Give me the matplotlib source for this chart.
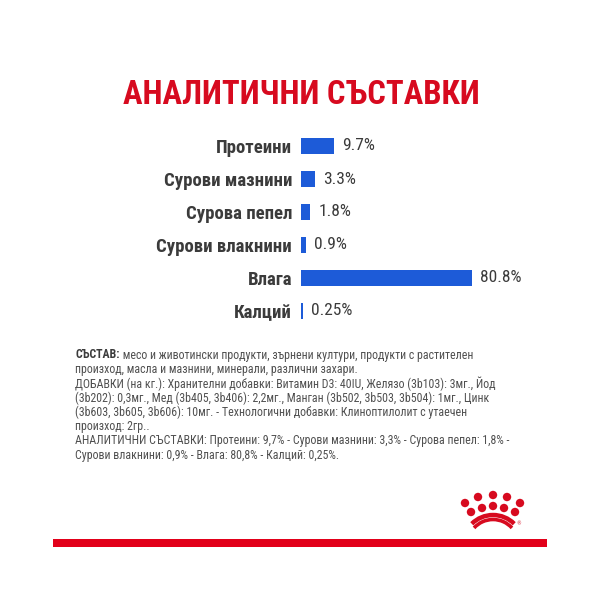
import matplotlib
matplotlib.use('Agg')
import matplotlib.pyplot as plt
import numpy as np
from matplotlib import font_manager
from matplotlib.patches import Circle, Arc, Rectangle

# ---------------------------------------------------------------------------
# Data
# ---------------------------------------------------------------------------
categories = ['Протеини', 'Сурови мазнини', 'Сурова пепел',
              'Сурови влакнини', 'Влага', 'Калций']
values = [9.7, 3.3, 1.8, 0.9, 80.8, 0.25]
value_labels = ['9.7%', '3.3%', '1.8%', '0.9%', '80.8%', '0.25%']

title = 'АНАЛИТИЧНИ СЪСТАВКИ'
composition_head = 'СЪСТАВ:'
composition_lines = [
    ' месо и животински продукти, зърнени култури, продукти с растителен',
    'произход, масла и мазнини, минерали, различни захари.',
    'ДОБАВКИ (на кг.): Хранителни добавки: Витамин D3: 40IU, Желязо (3b103): 3мг., Йод',
    '(3b202): 0,3мг., Мед (3b405, 3b406): 2,2мг., Манган (3b502, 3b503, 3b504): 1мг., Цинк',
    '(3b603, 3b605, 3b606): 10мг. - Технологични добавки: Клиноптилолит с утаечен',
    'произход: 2гр..',
    'АНАЛИТИЧНИ СЪСТАВКИ: Протеини: 9,7% - Сурови мазнини: 3,3% - Сурова пепел: 1,8% -',
    'Сурови влакнини: 0,9% - Влага: 80,8% - Калций: 0,25%.',
]

RED = '#d70a1f'
BLUE = '#1d5bd8'
DARK = '#3b3b3b'
GREY = '#505050'

# pick a narrow family if one is installed
names = {f.name for f in font_manager.fontManager.ttflist}
NARROW = next((n for n in ['Roboto Condensed', 'Liberation Sans Narrow',
                           'Open Sans Condensed'] if n in names), None)
if NARROW is None:
    NARROW = 'DejaVu Sans'
    STRETCH = 'condensed'
else:
    STRETCH = 'normal'

fig = plt.figure(figsize=(6, 6), dpi=100, facecolor='white')

# ---------------------------------------------------------------------------
# Bars
# ---------------------------------------------------------------------------
ax = fig.add_axes([301 / 600, 1 - 327.5 / 600, 171 / 600, 198 / 600])
ax.set_xscale('function', functions=(lambda x: np.power(np.clip(x, 0, None), 0.78),
                                     lambda x: np.power(np.clip(x, 0, None), 1 / 0.78)))
y = np.arange(len(categories))
ax.barh(y, values, height=0.47, color=BLUE)
ax.set_xlim(0, max(values))
ax.set_ylim(len(categories) - 0.5, -0.5)
ax.set_yticks(y)
ax.set_yticklabels(categories, fontfamily=NARROW, fontstretch=STRETCH,
                   fontweight='bold', fontsize=13.5, color=DARK)
ax.tick_params(axis='y', length=0, pad=6.5)
ax.set_xticks([])
for s in ax.spines.values():
    s.set_visible(False)
for yi, v, lab in zip(y, values, value_labels):
    ax.annotate(lab, xy=(v, yi), xytext=(6, 0), textcoords='offset points',
                va='center', ha='left', fontsize=12.5, color=DARK,
                fontfamily=NARROW, fontstretch=STRETCH)

# ---------------------------------------------------------------------------
# Overlay in pixel coordinates: title, paragraph, logo, red rule
# ---------------------------------------------------------------------------
ov = fig.add_axes([0, 0, 1, 1], zorder=-1)
ov.set_xlim(0, 600)
ov.set_ylim(600, 0)
ov.axis('off')

ov.text(301, 95, title, ha='center', va='center', fontsize=23.5,
        fontweight='bold', color=RED, fontfamily=NARROW, fontstretch=STRETCH)

line_y0, line_dy = 355, 14.3
fs = 8.6
head = ov.text(75, line_y0, composition_head, ha='left', va='center',
               fontsize=fs, fontweight='bold', color=DARK,
               fontfamily=NARROW, fontstretch=STRETCH)
ov.annotate(composition_lines[0], xy=(1, 0), xycoords=head, va='bottom',
            ha='left', fontsize=fs, color=GREY, fontfamily=NARROW,
            fontstretch=STRETCH)
for i, line in enumerate(composition_lines[1:], start=1):
    ov.text(75, line_y0 + i * line_dy, line, ha='left', va='center',
            fontsize=fs, color=GREY, fontfamily=NARROW, fontstretch=STRETCH)

# crown logo
top_row = [(465, 503), (478, 497), (493, 495), (507, 497), (520, 503)]
low_row = [(471, 512), (482, 508), (493, 506), (504, 508), (515, 512)]
for cx, cy in top_row + low_row:
    ov.add_patch(Circle((cx, cy), 4.2, color=RED, lw=0))
ov.add_patch(Arc((493, 545), 60, 60, theta1=225, theta2=315, color=RED, lw=3.2))
ov.add_patch(Arc((493, 545), 51, 51, theta1=222, theta2=318, color=RED, lw=2.6))
ov.text(519, 524, '®', fontsize=3.5, color=RED, ha='center', va='center')

ov.add_patch(Rectangle((53, 539), 494, 8, color='#e2001a', lw=0))

fig.savefig('out.png', dpi=100, facecolor='white')
